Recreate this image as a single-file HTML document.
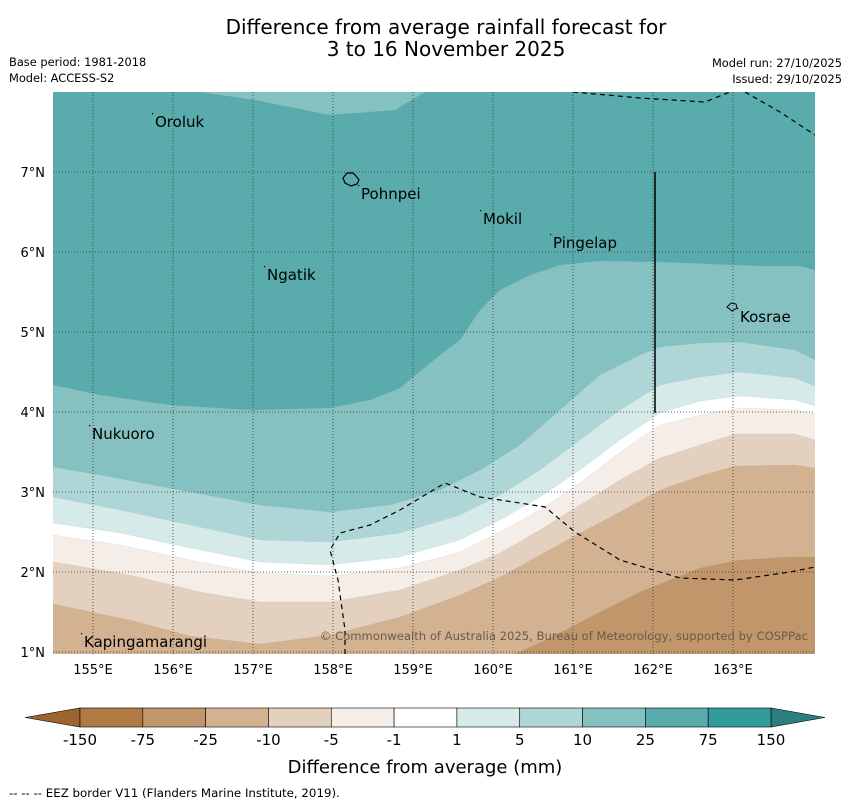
<!DOCTYPE html>
<html><head><meta charset="utf-8"><style>
body{margin:0;background:#fff;width:850px;height:804px;overflow:hidden;font-family:"Liberation Sans","DejaVu Sans",sans-serif}
</style></head><body>
<svg width="850" height="804" xmlns="http://www.w3.org/2000/svg" font-family="DejaVu Sans, Liberation Sans, sans-serif">
<text x="446" y="34" text-anchor="middle" font-size="20">Difference from average rainfall forecast for</text>
<text x="446" y="56" text-anchor="middle" font-size="20">3 to 16 November 2025</text>
<text x="9" y="66" font-size="11.4">Base period: 1981-2018</text>
<text x="9" y="82" font-size="11.4">Model: ACCESS-S2</text>
<text x="842" y="67" font-size="11.4" text-anchor="end">Model run: 27/10/2025</text>
<text x="842" y="83" font-size="11.4" text-anchor="end">Issued: 29/10/2025</text>
<defs><clipPath id="mc"><rect x="53" y="92" width="762" height="562"/></clipPath></defs>
<g id="map" clip-path="url(#mc)"></g>
<g id="cbar"></g>
<text x="425" y="773" text-anchor="middle" font-size="18">Difference from average (mm)</text>
<text x="9" y="797" font-size="11.8">--  --  -- EEZ border V11 (Flanders Marine Institute, 2019).</text>
<script>
const NS="http://www.w3.org/2000/svg";
const lonTicks=[155,156,157,158,159,160,161,162,163];
const latTicks=[1,2,3,4,5,6,7];
const levels=[-150,-75,-25,-10,-5,-1,1,5,10,25,75,150];
const bandColors=["#b07a45","#c0966a","#d3b292","#e4d0be","#f5ede8","#ffffff","#d7eaea","#aed6d6","#85c1c1","#5aabab","#339a9a"];
function P(a){return a.map(p=>[(p[0]-93)/80+155,7-(p[1]-172)/80]);}
const b10=P([[53,385],[100,395],[170,405],[250,410],[330,408],[370,400],[400,388],[440,355],[460,340],[480,310],[500,290],[530,275],[560,265],[600,261],[660,262],[760,266],[800,266],[815,270]]);
const b5=P([[53,467],[100,475],[180,490],[260,505],[330,512],[390,505],[440,490],[480,470],[520,445],[560,410],[600,375],[640,355],[660,347],[700,343],[740,342],[795,350],[815,360]]);
const b1=P([[53,497],[120,510],[200,527],[260,540],[330,542],[400,533],[460,515],[500,495],[540,470],[580,440],[620,410],[660,385],[700,377],[740,372],[795,378],[815,386]]);
const bm1=P([[53,523],[120,533],[200,550],[260,562],[330,565],[400,557],[460,540],[500,520],[540,497],[580,470],[620,440],[660,413],[700,401],[740,396],[795,400],[815,406]]);
const bm5=P([[53,535],[120,545],[200,562],[260,573],[330,576],[400,568],[460,552],[500,532],[540,510],[580,483],[620,452],[660,425],[700,415],[740,408],[795,410],[815,414]]);
const bm10=P([[53,562],[130,575],[200,592],[260,602],[330,602],[400,590],[460,570],[500,553],[540,530],[580,505],[620,480],[660,458],[700,445],[735,434],[795,434],[815,440]]);
const bm25=P([[53,604],[130,620],[190,636],[260,644],[330,635],[400,617],[460,595],[500,577],[540,555],[580,533],[620,512],[660,490],[700,476],[735,466],[795,465],[815,468]]);
const bm75=P([[515,654],[550,638],[600,612],[640,592],[670,580],[700,568],[740,560],[790,557],[815,557]]);
const topBump=P([[200,92],[255,100],[330,115],[395,110],[425,92]]);
const eez1=P([[573,92],[640,98],[705,102],[735,90]]);
const eez2=P([[745,92],[780,112],[815,135]]);
const eez3=P([[345,654],[345,630],[338,580],[330,550],[340,533],[370,525],[400,510],[445,483],[480,497],[520,503],[545,507],[575,532],[620,560],[680,578],[735,580],[790,572],[820,566]]);
const places=[["Oroluk",155.775,7.5625],["Pohnpei",158.35,6.6625],["Mokil",159.875,6.35],["Pingelap",160.75,6.05],["Ngatik",157.175,5.65],["Kosrae",163.0875,5.125],["Nukuoro",154.9875,3.6625],["Kapingamarangi",154.8875,1.0625]];
const X=lon=>93+(lon-155)*80, Y=lat=>172+(7-lat)*80;
const map=document.getElementById('map');
function mk(t,a,p){const e=document.createElementNS(NS,t);for(const k in a)e.setAttribute(k,a[k]);(p||map).appendChild(e);return e;}
let r=mk('rect',{x:53,y:92,width:762,height:562,fill:bandColors[9]});


const pts=a=>a.map(p=>X(p[0]).toFixed(1)+','+Y(p[1]).toFixed(1)).join(' ');
let tb=mk('polygon',{points:pts(topBump),fill:bandColors[8]});


const bounds=[[b10,8],[b5,7],[b1,6],[bm1,5],[bm5,4],[bm10,3],[bm25,2],[bm75,1]];
bounds.forEach(([b,ci])=>{const extra=' 830,'+Y(0.5)+' 40,'+Y(0.5);
 const e=mk('polygon',{points:pts(b)+extra,fill:bandColors[ci],stroke:'#8aa',"stroke-width":0.3,"stroke-opacity":0.4});
 
 });
lonTicks.forEach(l=>{const e=mk('line',{x1:X(l),x2:X(l),y1:92,y2:654,stroke:'#333',"stroke-width":0.8,"stroke-dasharray":"1,2"});
 
 });
latTicks.forEach(l=>{const e=mk('line',{x1:53,x2:815,y1:Y(l),y2:Y(l),stroke:'#333',"stroke-width":0.8,"stroke-dasharray":"1,2"});
 
 });
[eez1,eez2,eez3].forEach((a,i)=>{const e=mk('polyline',{points:pts(a),fill:'none',stroke:'#000',"stroke-width":1.2,"stroke-dasharray":"5,4"});
 
 });
let vl=mk('line',{x1:655,x2:655,y1:172,y2:413,stroke:'#000',"stroke-width":1.5});


let pi=mk('path',{d:'M343,178 l4,-5 l6,0 l3,3 l3,4 l-2,4 l-6,2 l-6,-3 z',fill:'none',stroke:'#000',"stroke-width":1.2});


let ki=mk('path',{d:'M727,307 l4,-4 l5,1 l1,4 l-5,3 z',fill:'none',stroke:'#000',"stroke-width":1});


places.forEach(p=>{const t=mk('text',{x:X(p[1]),y:Y(p[2]),"font-size":15});t.textContent=p[0];
 
 
 const d=mk('rect',{x:X(p[1])-3,y:Y(p[2])-14,width:1.2,height:1.2,fill:'#000'});
 
 });
let cp=mk('text',{x:808,y:640,"font-size":11.6,"text-anchor":"end",fill:'#6a5a4a'});cp.textContent='© Commonwealth of Australia 2025, Bureau of Meteorology, supported by COSPPac';


const svg=document.querySelector('svg');
lonTicks.forEach(l=>{const t=mk('text',{x:X(l),y:674,"font-size":13,"text-anchor":"middle"},svg);t.textContent=l+'°E';
 
 });
latTicks.forEach(l=>{const t=mk('text',{x:45,y:Y(l)+5,"font-size":13,"text-anchor":"end"},svg);t.textContent=l+'°N';
 
 });
const cb=document.getElementById('cbar');
const cx0=80,cw=(771-80)/11,cy=708,ch=19;
let lt=mk('polygon',{points:`${cx0},${cy} ${cx0},${cy+ch} 25,${cy+ch/2}`,fill:'#9c6530',stroke:'#000',"stroke-width":0.6},cb);


let rt=mk('polygon',{points:`771,${cy} 771,${cy+ch} 825,${cy+ch/2}`,fill:'#2a7f7f',stroke:'#000',"stroke-width":0.6},cb);


bandColors.forEach((c,i)=>{const e=mk('rect',{x:cx0+i*cw,y:cy,width:cw,height:ch,fill:c,stroke:'#000',"stroke-width":0.6},cb);
 
 });
levels.forEach((v,i)=>{const t=mk('text',{x:cx0+i*cw,y:745,"font-size":15,"text-anchor":"middle"},cb);t.textContent=v;
 
 });
</script>
</svg>
</body></html>
